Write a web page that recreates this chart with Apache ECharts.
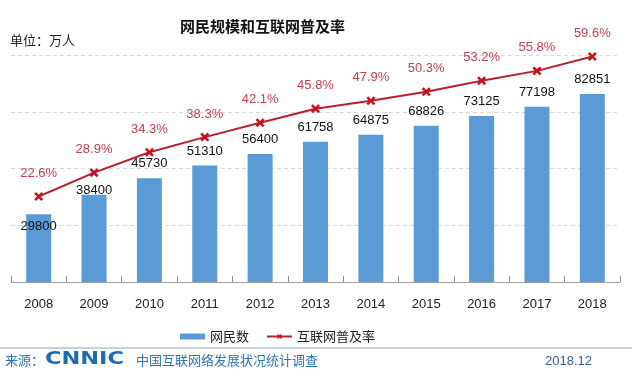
<!DOCTYPE html>
<html>
<head>
<meta charset="utf-8">
<script src="https://cdn.jsdelivr.net/npm/echarts@6/dist/echarts.min.js"></script>
<style>
html,body{margin:0;padding:0;background:#fff;}
#c{width:632px;height:375px;}
</style>
</head>
<body>
<div id="c"></div>
<script>
const years = ['2008','2009','2010','2011','2012','2013','2014','2015','2016','2017','2018'];
const netizens = [29800, 38400, 45730, 51310, 56400, 61758, 64875, 68826, 73125, 77198, 82851];
const penetration = [22.6, 28.9, 34.3, 38.3, 42.1, 45.8, 47.9, 50.3, 53.2, 55.8, 59.6];

const chart = echarts.init(document.getElementById('c'), null, {renderer: 'canvas'});
const cjk = '"Noto Sans CJK SC", "Microsoft YaHei", sans-serif';
const latin = '"Liberation Sans", Arial, sans-serif';
const crossPath = 'path://M2,0 L5,3 L8,0 L10,2 L7,5 L10,8 L8,10 L5,7 L2,10 L0,8 L3,5 L0,2 Z';

const barData = netizens.map(function (v, i) {
  if (i === 0) return {value: v, label: {distance: -19}};
  if (i === 1) return {value: v, label: {distance: -2}};
  return v;
});

chart.setOption({
  animation: false,
  backgroundColor: '#ffffff',
  grid: {left: 11, right: 12, top: 55, bottom: 93, containLabel: false},
  legend: {
    left: 175, top: 325,
    itemWidth: 25, itemHeight: 6, itemGap: 17,
    textStyle: {fontFamily: cjk, fontSize: 13, color: '#222'},
    data: [
      {name: '网民数', icon: 'rect'},
      {name: '互联网普及率'}
    ]
  },
  xAxis: {
    type: 'category',
    data: years,
    boundaryGap: true,
    axisLine: {show: true, lineStyle: {color: '#a0a0a0', width: 1}},
    axisTick: {show: true, inside: true, length: 6, interval: 0, alignWithLabel: false, lineStyle: {color: '#909090', width: 1}},
    axisLabel: {margin: 16, fontFamily: latin, fontSize: 13, color: '#222'}
  },
  yAxis: [
    {
      type: 'value', min: 0, max: 100000, interval: 25000,
      axisLine: {show: false}, axisTick: {show: false}, axisLabel: {show: false},
      splitLine: {lineStyle: {color: '#d9d9d9', type: [4, 3]}}
    },
    {
      type: 'value', min: 0, max: 60, interval: 15,
      axisLine: {show: false}, axisTick: {show: false}, axisLabel: {show: false},
      splitLine: {show: false}
    }
  ],
  series: [
    {
      name: '网民数', type: 'bar', yAxisIndex: 0,
      data: barData,
      barWidth: 25,
      itemStyle: {color: '#5b9bd5'},
      label: {show: true, position: 'top', distance: 8, fontFamily: latin, fontSize: 13, color: '#111'}
    },
    {
      name: '互联网普及率', type: 'line', yAxisIndex: 1,
      data: penetration,
      symbol: crossPath, symbolSize: 9,
      lineStyle: {color: '#b8202c', width: 2},
      itemStyle: {color: '#c8101e'},
      label: {show: true, position: 'top', distance: 12, fontFamily: latin, fontSize: 13, color: '#c0404c',
        formatter: function (p) { return p.value.toFixed(1) + '%'; }}
    }
  ],
  graphic: [
    {type: 'text', left: 180, top: 19, style: {text: '网民规模和互联网普及率', font: 'bold 15px ' + cjk, fill: '#111'}},
    {type: 'text', left: 10, top: 34, style: {text: '单位：万人', font: '13px ' + cjk, fill: '#222'}},
    {type: 'line', shape: {x1: 0, y1: 348, x2: 632, y2: 348}, style: {stroke: '#8fa3b8', lineWidth: 1}},
    {type: 'text', left: 5, top: 354, style: {text: '来源：', font: '13px ' + cjk, fill: '#2f74b5'}},
    {type: 'text', x: 45, y: 351, scaleX: 1.32, style: {text: 'CNNIC', font: '900 17px "DejaVu Sans", sans-serif', fill: '#1d6bb3'}},
    {type: 'text', left: 136, top: 354, style: {text: '中国互联网络发展状况统计调查', font: '13px ' + cjk, fill: '#2f74b5'}},
    {type: 'text', left: 545, top: 355, style: {text: '2018.12', font: '13px ' + latin, fill: '#2f5f9a'}}
  ]
});
</script>
</body>
</html>
